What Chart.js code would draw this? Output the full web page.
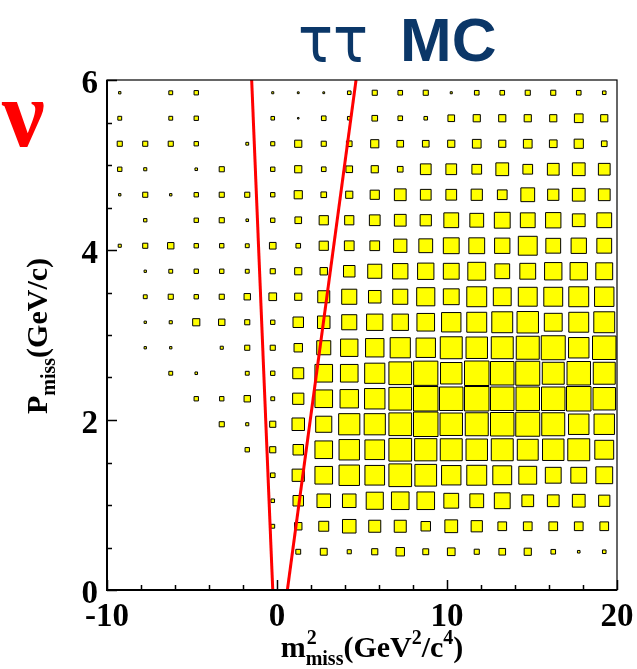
<!DOCTYPE html>
<html><head><meta charset="utf-8">
<script src="https://cdn.jsdelivr.net/npm/chart.js@4.4.1/dist/chart.umd.min.js"></script>
<style>html,body{margin:0;padding:0;background:#fff;overflow:hidden}#wrap{width:637px;height:669px;position:relative}canvas{display:block}</style>
</head><body><div id="wrap"><canvas id="c" width="637" height="669"></canvas></div>
<script>
// ---- data ----
const xBinCenters = [-9.25,-7.75,-6.25,-4.75,-3.25,-1.75,-0.25,1.25,2.75,4.25,5.75,7.25,8.75,10.25,11.75,13.25,14.75,16.25,17.75,19.25];
const yBinCenters = [5.85,5.55,5.25,4.95,4.65,4.35,4.05,3.75,3.45,3.15,2.85,2.55,2.25,1.95,1.65,1.35,1.05,0.75,0.45,0.15];
const maxContent = 100;
// rows follow yBinCenters (top to bottom), columns follow xBinCenters
const boxContent = [
 [13,0,19,21,0,0,12,11,11,18,24,22,24,12,22,22,24,24,22,18],
 [19,0,19,21,0,0,18,10,22,18,26,22,18,30,32,32,32,32,38,32],
 [24,24,24,21,0,15,20,32,24,26,36,30,30,32,38,32,38,34,40,26],
 [21,16,0,14,24,0,21,32,22,30,32,26,46,46,42,54,42,50,54,50],
 [13,24,13,21,24,24,21,36,26,32,40,50,46,46,48,42,58,48,54,50],
 [0,17,0,21,24,14,21,30,40,40,46,50,48,62,58,66,62,64,54,62],
 [16,24,29,21,21,19,30,22,40,42,42,56,58,66,66,64,78,62,64,62],
 [0,13,19,21,21,19,24,32,33,49,59,64,68,66,74,62,66,72,72,70],
 [0,19,24,21,24,29,34,32,51,63,53,63,75,66,82,74,78,78,82,80],
 [0,13,16,32,29,24,21,45,53,63,68,68,73,80,82,86,88,74,82,86],
 [0,13,13,0,16,24,24,37,59,72,76,83,80,90,88,90,94,98,84,96],
 [0,0,19,14,0,19,21,47,73,73,83,93,99,88,100,96,98,90,96,90],
 [0,0,0,21,21,29,19,48,73,76,84,93,100,96,100,96,96,96,100,92],
 [0,0,0,0,24,16,28,53,67,87,87,93,100,92,94,96,98,94,84,84],
 [0,0,0,0,0,21,28,45,73,84,81,93,91,90,88,90,86,88,90,78],
 [0,0,0,0,0,0,22,52,73,84,81,93,89,80,82,78,74,66,66,70],
 [0,0,0,0,0,0,18,45,57,57,71,73,73,62,58,66,50,50,54,48],
 [0,0,0,0,0,0,19,33,43,57,51,51,41,54,48,38,38,38,38,38],
 [0,0,0,0,0,0,0,23,31,20,28,37,27,34,24,30,32,22,14,18],
 [0,0,0,0,0,0,0,0,0,0,0,0,0,0,0,0,0,0,0,0]
];
const cutLineLeft = [{x:-1.49,y:6},{x:-0.25,y:0}];
const cutLineRight = [{x:4.65,y:6},{x:0.61,y:0}];
const xTickLabels = [-10,0,10,20];
const yTickLabels = [0,2,4,6];
const xRange = [-10,20];
const yRange = [0,6];

// ---- build ----
const binW = xBinCenters[1]-xBinCenters[0];
const boxPoints = [];
yBinCenters.forEach((yc,r)=>xBinCenters.forEach((xc,c)=>{const v=boxContent[r][c]; if(v>0) boxPoints.push({x:xc,y:yc,v:v});}));

function boxRadius(ctx){
  const ch = ctx.chart, xs = ch.scales.x;
  if(!xs || !ctx.raw) return 0;
  const cw = Math.abs(xs.getPixelForValue(binW)-xs.getPixelForValue(0));
  const side = Math.max(cw*ctx.raw.v/maxContent - 1, 1.2);
  return side/Math.SQRT2;
}

const SERIF = '"Liberation Serif","Times New Roman",serif';
const f = s => 'bold '+s+'px '+SERIF;

const decor = {
  id:'decor',
  afterDraw(chart){
    const ctx = chart.ctx, a = chart.chartArea, xs = chart.scales.x, ys = chart.scales.y;
    ctx.save();
    // frame
    ctx.strokeStyle = '#000';
    ctx.lineWidth = 1.2;
    ctx.strokeRect(a.left, a.top, a.right-a.left, a.bottom-a.top);
    ctx.lineWidth = 2;
    ctx.beginPath();
    ctx.moveTo(a.left, a.top); ctx.lineTo(a.left, a.bottom); ctx.lineTo(a.right, a.bottom);
    ctx.stroke();
    // ticks (inward)
    ctx.lineWidth = 1.5;
    ctx.beginPath();
    for(let v=xRange[0]; v<=xRange[1]+1e-9; v+=2){
      const px = Math.round(xs.getPixelForValue(v))+0.5;
      const len = (Math.abs(v%10)<1e-9) ? 10 : 5;
      ctx.moveTo(px, a.bottom); ctx.lineTo(px, a.bottom-len);
    }
    for(let v=yRange[0]; v<=yRange[1]+1e-9; v+=0.5){
      const py = Math.round(ys.getPixelForValue(v))+0.5;
      const len = (Math.abs(v%2)<1e-9) ? 10 : 5;
      ctx.moveTo(a.left, py); ctx.lineTo(a.left+len, py);
    }
    ctx.stroke();
    // tick labels
    ctx.fillStyle = '#000';
    ctx.font = f(33);
    ctx.textBaseline = 'alphabetic';
    ctx.textAlign = 'center';
    xTickLabels.forEach(v=>{ ctx.fillText(String(v), xs.getPixelForValue(v), a.bottom+36); });
    ctx.textAlign = 'right';
    yTickLabels.forEach(v=>{ ctx.fillText(String(v), a.left-9, ys.getPixelForValue(v)+13); });

    // x title with stacked sup/sub
    ctx.textAlign = 'left';
    const parts = [
      {t:'m', s:30, dy:0},
      {t:'miss', s:20, dy:8, sup:'2'},
      {t:'(GeV', s:30, dy:0},
      {t:'2', s:20, dy:-13},
      {t:'/c', s:30, dy:0},
      {t:'4', s:20, dy:-13},
      {t:')', s:30, dy:0}
    ];
    let tw = 0;
    parts.forEach(p=>{ctx.font=f(p.s); p.w=ctx.measureText(p.t).width; tw+=p.w;});
    let x = (a.left+a.right)/2 - tw/2 + 10;
    const yb = 657;
    parts.forEach(p=>{
      ctx.font=f(p.s);
      ctx.fillText(p.t, x, yb+p.dy);
      if(p.sup){ ctx.fillText(p.sup, x+1, yb-13); }
      x += p.w;
    });
    ctx.restore();

    // y title (rotated)
    ctx.save();
    ctx.fillStyle = '#000';
    ctx.textBaseline = 'alphabetic';
    ctx.textAlign = 'left';
    ctx.translate(47, 336);
    ctx.rotate(-Math.PI/2);
    const yparts = [
      {t:'P', s:30, dy:0},
      {t:'miss', s:20, dy:8},
      {t:'(GeV/c)', s:30, dy:0}
    ];
    let tw2 = 0;
    yparts.forEach(p=>{ctx.font=f(p.s); p.w=ctx.measureText(p.t).width; tw2+=p.w;});
    let x2 = -tw2/2;
    yparts.forEach(p=>{ ctx.font=f(p.s); ctx.fillText(p.t, x2, p.dy); x2 += p.w; });
    ctx.restore();

    // title and nu
    ctx.save();
    ctx.textBaseline = 'alphabetic';
    ctx.textAlign = 'left';
    ctx.fillStyle = '#0b3768';
    ctx.font = '64px "DejaVu Sans","Liberation Sans",sans-serif';
    const tauW = ctx.measureText('\u03C4\u03C4').width;
    ctx.save();
    ctx.translate(298, 62);
    ctx.scale(70/tauW, 1);
    ctx.fillText('\u03C4\u03C4', 0, 0);
    ctx.restore();
    ctx.font = 'bold 62px "Liberation Sans","DejaVu Sans",sans-serif';
    ctx.fillText('MC', 400, 61);
    ctx.fillStyle = '#ff0000';
    ctx.font = 'bold 96px '+SERIF;
    ctx.fillText('\u03BD', 2, 146);
    ctx.restore();
  }
};

new Chart(document.getElementById('c'), {
  type:'scatter',
  data:{ datasets:[
    { data: boxPoints, order:2, pointStyle:'rect', backgroundColor:'#ffff00', borderColor:'#000', borderWidth:1,
      pointRadius: boxRadius, pointHoverRadius: boxRadius, pointHitRadius:0 },
    { data: cutLineLeft, order:1, showLine:true, borderColor:'#ff0000', borderWidth:3, pointRadius:0, fill:false },
    { data: cutLineRight, order:1, showLine:true, borderColor:'#ff0000', borderWidth:3, pointRadius:0, fill:false }
  ]},
  options:{
    responsive:false, animation:false, events:[],
    layout:{ padding:{ top:80, right:20, left:0, bottom:0 } },
    scales:{
      x:{ type:'linear', min:xRange[0], max:xRange[1], afterFit:s=>{s.height=79;},
          ticks:{display:false}, grid:{display:false, drawTicks:false}, border:{display:false} },
      y:{ type:'linear', min:yRange[0], max:yRange[1], afterFit:s=>{s.width=107;},
          ticks:{display:false}, grid:{display:false, drawTicks:false}, border:{display:false} }
    },
    plugins:{ legend:{display:false}, tooltip:{enabled:false}, title:{display:false} }
  },
  plugins:[decor]
});
</script></body></html>
